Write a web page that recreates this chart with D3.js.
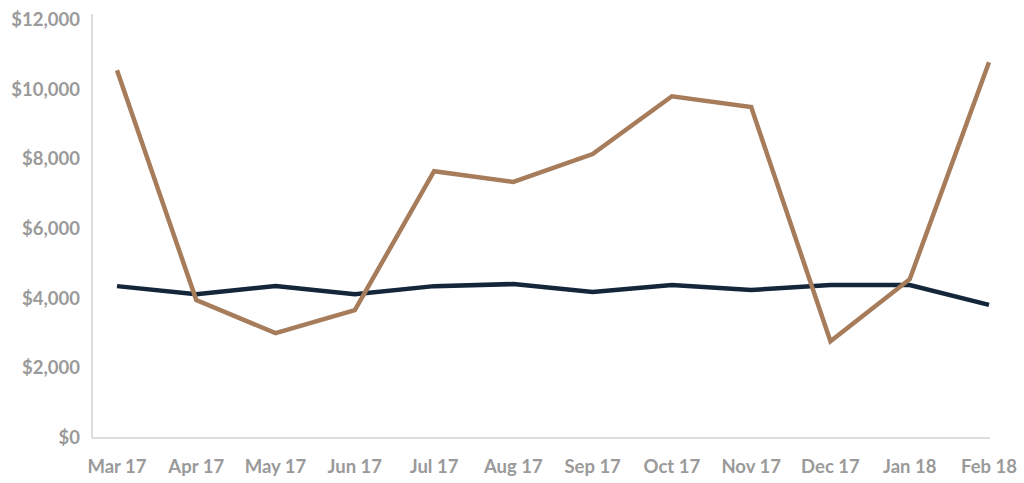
<!DOCTYPE html>
<html><head><meta charset="utf-8">
<script src="https://cdn.jsdelivr.net/npm/d3@7"></script>
<style>body{margin:0;background:#fff}text{font-family:Lato,sans-serif;font-weight:bold;fill:#9a9a9a;font-size:18.5px}</style>
</head><body><svg id="c" width="1024" height="483"></svg>
<script>
const months=["Mar 17","Apr 17","May 17","Jun 17","Jul 17","Aug 17","Sep 17","Oct 17","Nov 17","Dec 17","Jan 18","Feb 18"];
const brownSeries=[10560,3960,3010,3670,7660,7350,8150,9810,9500,2780,4560,10790];
const navySeries=[4360,4130,4360,4130,4360,4420,4190,4390,4250,4390,4390,3820];
const yTicks=[0,2000,4000,6000,8000,10000,12000];
const svg=d3.select("#c");
const x=d3.scalePoint().domain(months).range([117,989]);
const y=d3.scaleLinear().domain([0,12000]).range([438,20]);
svg.append("line").attr("x1",92).attr("x2",92).attr("y1",14).attr("y2",438).attr("stroke","#ddd").attr("stroke-width",2);
svg.append("line").attr("x1",92).attr("x2",990).attr("y1",438).attr("y2",438).attr("stroke","#ddd").attr("stroke-width",2);
svg.selectAll(".yt").data(yTicks).enter().append("text").attr("x",80).attr("y",d=>y(d)+6).attr("text-anchor","end").text(d=>"$"+d3.format(",")(d));
svg.selectAll(".xt").data(months).enter().append("text").attr("x",d=>x(d)).attr("y",473).attr("text-anchor","middle").text(d=>d);
const line=d3.line().x((d,i)=>x(months[i])).y(d=>y(d));
svg.append("path").datum(navySeries).attr("d",line).attr("fill","none").attr("stroke","#13263a").attr("stroke-width",4.5);
svg.append("path").datum(brownSeries).attr("d",line).attr("fill","none").attr("stroke","#a67c5b").attr("stroke-width",4.5);
</script></body></html>
